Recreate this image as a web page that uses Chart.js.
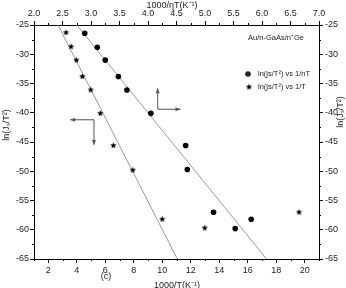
<!DOCTYPE html>
<html>
<head>
<meta charset="utf-8">
<script src="https://cdn.jsdelivr.net/npm/chart.js@4"></script>
<style>
  html, body { margin: 0; padding: 0; background: #fff; }
  #wrap { width: 346px; height: 288px; position: relative; }
</style>
</head>
<body>
<div id="wrap"><canvas id="chart"></canvas></div>
<script>
// values
const circleX = [2.89, 3.11, 3.25, 3.48, 3.63, 4.05, 4.66, 4.69, 5.15, 5.53, 5.81]; // 1000/nT
const circleY = [-26.4, -28.8, -31.0, -33.8, -36.1, -40.1, -45.6, -49.7, -57.0, -59.8, -58.2];
const starX = [3.25, 3.6, 3.97, 4.39, 4.98, 5.65, 6.57, 7.93, 10.0, 12.98, 19.6]; // 1000/T
const starY = [-26.3, -28.7, -31.0, -33.8, -36.1, -40.1, -45.6, -49.8, -58.2, -59.7, -57.0];
const circleFitX = [2.75, 6.08];
const circleFitY = [-25, -65];
const starFitX = [2.68, 11.06];
const starFitY = [-25, -65];

const bottomTicks = [2, 4, 6, 8, 10, 12, 14, 16, 18, 20];
const topTicks = [2.0, 2.5, 3.0, 3.5, 4.0, 4.5, 5.0, 5.5, 6.0, 6.5, 7.0];
const yTicks = [-25, -30, -35, -40, -45, -50, -55, -60, -65];

const FONT = 'Liberation Sans, Arial, sans-serif';

const pts = (xs, ys) => xs.map((x, i) => ({ x: x, y: ys[i] }));

// filled five point star for the 1/T series
function makeStar(r) {
    const c = document.createElement('canvas');
    const s = Math.ceil(r * 2 + 2);
    c.width = s; c.height = s;
    const g = c.getContext('2d');
    g.fillStyle = '#000';
    g.beginPath();
    for (let i = 0; i < 10; i++) {
        const rad = i % 2 === 0 ? r : r * 0.45;
        const a = -Math.PI / 2 + i * Math.PI / 5;
        const px = s / 2 + rad * Math.cos(a);
        const py = s / 2 + rad * Math.sin(a);
        if (i === 0) g.moveTo(px, py); else g.lineTo(px, py);
    }
    g.closePath();
    g.fill();
    return c;
}
const starImg = makeStar(3.3);

const fixTicks = (vals) => (scale) => {
    scale.ticks = vals.map(v => ({ value: v }));
};

const decor = {
    id: 'decor',
    afterDraw(chart) {
        const ctx = chart.ctx;
        const { x, x2, y, y2 } = chart.scales;
        const area = chart.chartArea;
        ctx.save();
        ctx.strokeStyle = '#000';
        ctx.lineWidth = 1;
        // minor ticks
        ctx.beginPath();
        for (let v = 1; v <= 21; v += 2) {
            const px = Math.round(x.getPixelForValue(v)) + 0.5;
            ctx.moveTo(px, area.bottom); ctx.lineTo(px, area.bottom + 2);
        }
        for (let v = 2.25; v < 7; v += 0.5) {
            const px = Math.round(x2.getPixelForValue(v)) + 0.5;
            ctx.moveTo(px, area.top); ctx.lineTo(px, area.top - 2);
        }
        for (let v = -27.5; v > -65; v -= 5) {
            const py = Math.round(y.getPixelForValue(v)) + 0.5;
            ctx.moveTo(area.left, py); ctx.lineTo(area.left - 2, py);
            ctx.moveTo(area.right, py); ctx.lineTo(area.right + 2, py);
        }
        ctx.stroke();

        // axis titles
        ctx.fillStyle = '#222';
        ctx.font = '9px ' + FONT;
        ctx.textAlign = 'center';
        ctx.textBaseline = 'middle';
        ctx.fillText('1000/\u03B7T(K\u207B\u00B9)', 172, 6);
        ctx.fillText('1000/T(K\u207B\u00B9)', 177, 286);
        ctx.fillText('(c)', 106, 277);
        ctx.save();
        ctx.translate(7, 125);
        ctx.rotate(-Math.PI / 2);
        ctx.fillText('ln(J\u209B/T\u00B2)', 0, 0);
        ctx.restore();
        ctx.save();
        ctx.translate(341, 112);
        ctx.rotate(-Math.PI / 2);
        ctx.fillText('ln(J\u209B/T\u00B2)', 0, 0);
        ctx.restore();

        // legend
        ctx.textAlign = 'left';
        ctx.font = '7.5px ' + FONT;
        ctx.fillText('Au/n-GaAs/n\u207AGe', 248, 38);
        ctx.beginPath();
        ctx.arc(248, 74, 2.8, 0, Math.PI * 2);
        ctx.fill();
        ctx.drawImage(starImg, 249 - starImg.width / 2, 87 - starImg.height / 2);
        ctx.fillText('ln(js/T\u00B2) vs 1/nT', 258, 74);
        ctx.fillText('ln(js/T\u00B2) vs 1/T', 258, 87);

        // arrows pointing to the axes each series uses
        ctx.strokeStyle = '#555';
        ctx.fillStyle = '#555';
        const head = (hx, hy, dir) => {
            ctx.beginPath();
            if (dir === 'up') { ctx.moveTo(hx, hy); ctx.lineTo(hx - 2, hy + 5); ctx.lineTo(hx + 2, hy + 5); }
            if (dir === 'down') { ctx.moveTo(hx, hy); ctx.lineTo(hx - 2, hy - 5); ctx.lineTo(hx + 2, hy - 5); }
            if (dir === 'left') { ctx.moveTo(hx, hy); ctx.lineTo(hx + 5, hy - 2); ctx.lineTo(hx + 5, hy + 2); }
            if (dir === 'right') { ctx.moveTo(hx, hy); ctx.lineTo(hx - 5, hy - 2); ctx.lineTo(hx - 5, hy + 2); }
            ctx.closePath();
            ctx.fill();
        };
        let ax = x2.getPixelForValue(4.17), ay0 = y.getPixelForValue(-35.8), ay1 = y.getPixelForValue(-39.4);
        let ax1 = x2.getPixelForValue(4.57);
        ctx.beginPath();
        ctx.moveTo(ax, ay0); ctx.lineTo(ax, ay1); ctx.lineTo(ax1, ay1);
        ctx.stroke();
        head(ax, ay0, 'up'); head(ax1, ay1, 'right');

        let bx0 = x.getPixelForValue(3.53), bx1 = x.getPixelForValue(5.21);
        let by0 = y.getPixelForValue(-41.2), by1 = y.getPixelForValue(-45.5);
        ctx.beginPath();
        ctx.moveTo(bx0, by0); ctx.lineTo(bx1, by0); ctx.lineTo(bx1, by1);
        ctx.stroke();
        head(bx0, by0, 'left'); head(bx1, by1, 'down');
        ctx.restore();
    }
};

const axisGrid = { display: true, drawOnChartArea: false, drawTicks: true, tickLength: 4, color: '#000' };
const axisBorder = { display: true, color: '#000', width: 1 };
const tickFont = { family: FONT, size: 9 };

new Chart(document.getElementById('chart'), {
    type: 'scatter',
    data: {
        datasets: [
            {
                label: 'ln(js/T2) vs 1/nT',
                data: pts(circleX, circleY),
                xAxisID: 'x2', yAxisID: 'y',
                pointStyle: 'circle', pointRadius: 2.8,
                backgroundColor: '#000', borderColor: '#000', borderWidth: 0,
            },
            {
                label: 'ln(js/T2) vs 1/T',
                data: pts(starX, starY),
                xAxisID: 'x', yAxisID: 'y',
                pointStyle: starImg,
            },
            {
                label: 'fit nT',
                data: pts(circleFitX, circleFitY),
                xAxisID: 'x2', yAxisID: 'y',
                showLine: true, pointRadius: 0, borderColor: '#9a9a9a', borderWidth: 1,
            },
            {
                label: 'fit T',
                data: pts(starFitX, starFitY),
                xAxisID: 'x', yAxisID: 'y',
                showLine: true, pointRadius: 0, borderColor: '#9a9a9a', borderWidth: 1,
            },
        ],
    },
    options: {
        responsive: true,
        maintainAspectRatio: false,
        animation: false,
        layout: { padding: 0 },
        plugins: { legend: { display: false }, tooltip: { enabled: false } },
        scales: {
            x: {
                type: 'linear', position: 'bottom', min: 1, max: 21,
                afterBuildTicks: fixTicks(bottomTicks),
                afterFit: (s) => { s.height = 29; },
                grid: axisGrid, border: axisBorder,
                ticks: { font: tickFont, color: '#222', padding: 2, maxRotation: 0 },
            },
            x2: {
                type: 'linear', position: 'top', min: 2, max: 7,
                afterBuildTicks: fixTicks(topTicks),
                afterFit: (s) => { s.height = 25; },
                grid: axisGrid, border: axisBorder,
                ticks: { font: tickFont, color: '#222', padding: 2, maxRotation: 0, callback: (v) => v.toFixed(1) },
            },
            y: {
                type: 'linear', position: 'left', min: -65, max: -25,
                afterBuildTicks: fixTicks(yTicks),
                afterFit: (s) => { s.width = 34; },
                grid: axisGrid, border: axisBorder,
                ticks: { font: tickFont, color: '#222', padding: 1 },
            },
            y2: {
                type: 'linear', position: 'right', min: -65, max: -25,
                afterBuildTicks: fixTicks(yTicks),
                afterFit: (s) => { s.width = 27; },
                grid: axisGrid, border: axisBorder,
                ticks: { font: tickFont, color: '#222', padding: 2 },
            },
        },
    },
    plugins: [decor],
});
</script>
</body>
</html>
